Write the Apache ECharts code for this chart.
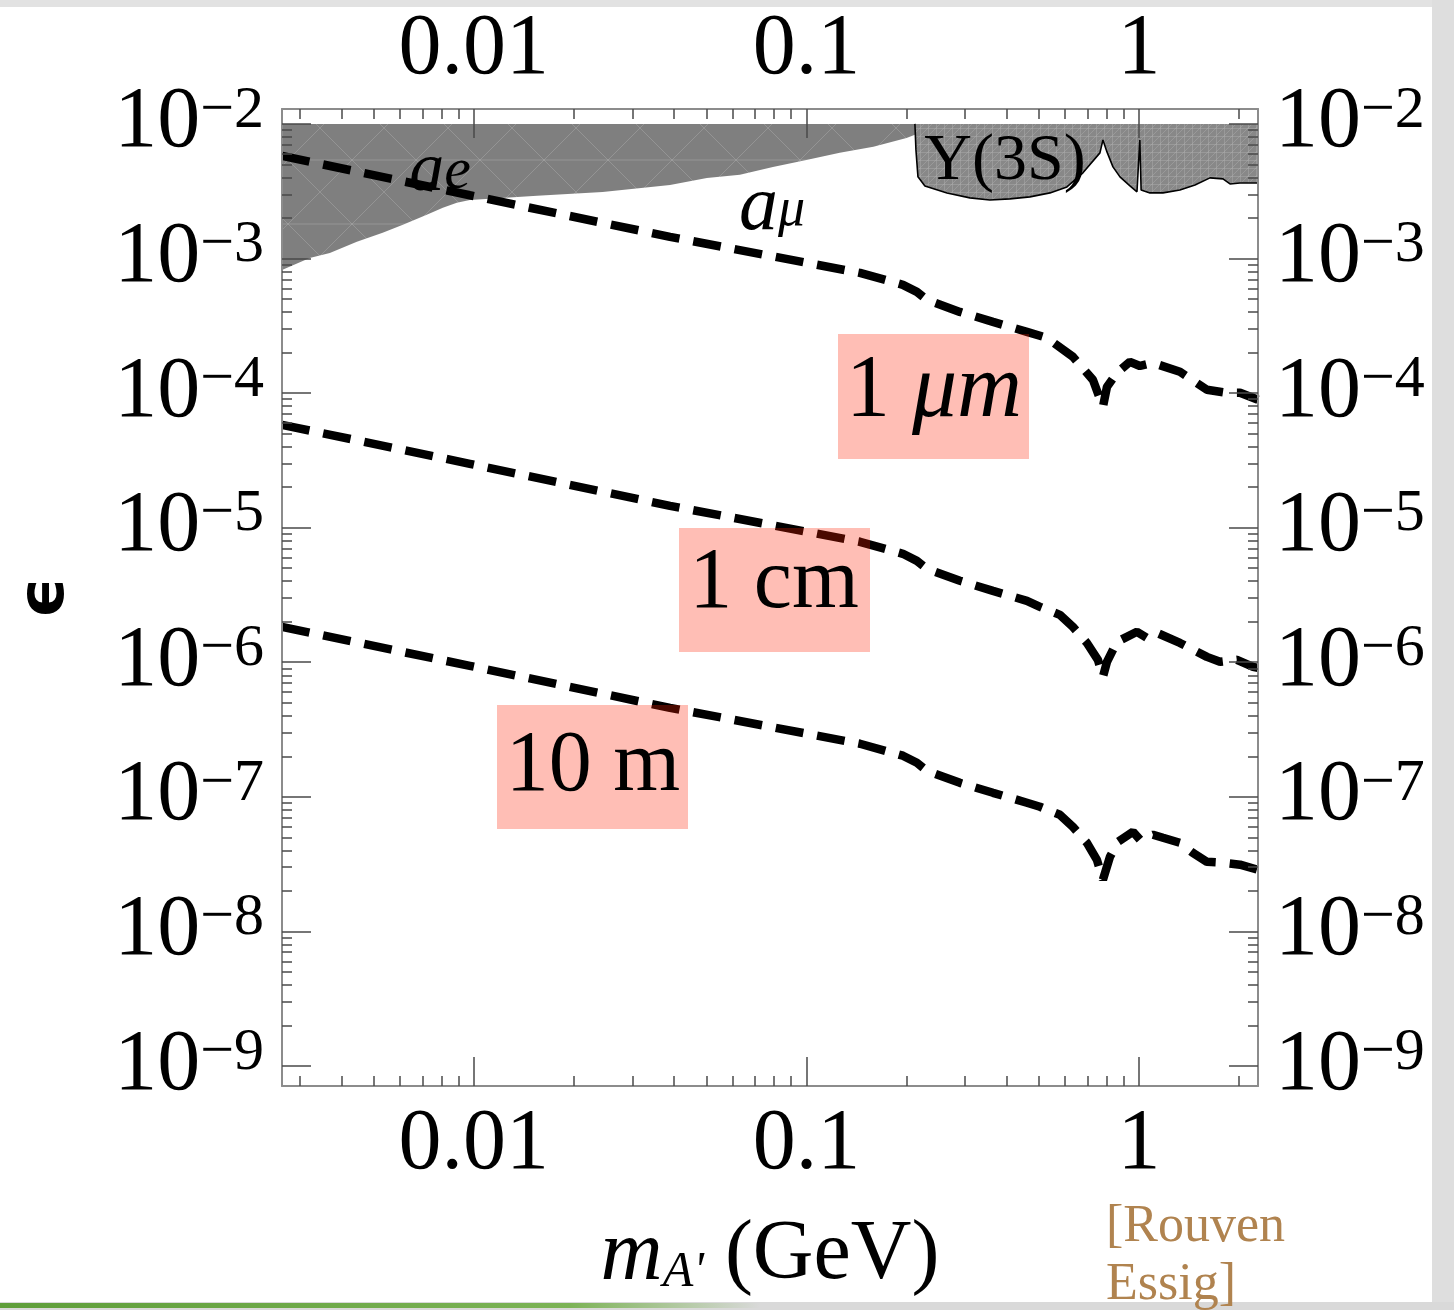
<!DOCTYPE html>
<html>
<head>
<meta charset="utf-8">
<script src="https://cdn.jsdelivr.net/npm/echarts@6/dist/echarts.min.js"></script>
<style>
  html, body { margin: 0; padding: 0; background: #fff; }
  #chart { width: 1454px; height: 1310px; }
</style>
</head>
<body>
<div id="chart"></div>
<script>
// axis ranges and tick values
const xMin = 0.00265, xMax = 2.28
const yMin = 7.1e-10, yMax = 0.0129
const xMajor = [0.01, 0.1, 1]
const yMajor = [1e-9, 1e-8, 1e-7, 1e-6, 1e-5, 1e-4, 1e-3, 1e-2]

// decay length contours: 1 um, 1 cm, 10 m
const um1X = [0.00265, 0.00973, 0.0389, 0.1449, 0.1951, 0.2149, 0.2304, 0.2894, 0.3639, 0.4604, 0.5289, 0.633, 0.7272, 0.7793, 0.8013, 0.8587, 0.9395, 1.007, 1.102, 1.328, 1.601, 1.839, 2.013, 2.28]
const um1Y = [5.78e-3, 2.95e-3, 1.447e-3, 7.81e-4, 6.37e-4, 5.65e-4, 4.92e-4, 4.01e-4, 3.38e-4, 2.85e-4, 2.57e-4, 1.86e-4, 1.253e-4, 7.9e-5, 1.111e-4, 1.413e-4, 1.705e-4, 1.59e-4, 1.676e-4, 1.438e-4, 1.057e-4, 1.004e-4, 1.004e-4, 8.91e-5]

const cm1X = [0.00265, 0.00973, 0.0389, 0.1449, 0.1951, 0.2149, 0.2304, 0.2894, 0.3639, 0.4604, 0.5039, 0.5786, 0.633, 0.6976, 0.7526, 0.7793, 0.8013, 0.8587, 0.9863, 1.057, 1.133, 1.328, 1.601, 1.752, 1.971, 2.203, 2.28]
const cm1Y = [5.81e-5, 2.98e-5, 1.452e-5, 7.85e-6, 6.39e-6, 5.66e-6, 4.94e-6, 4.03e-6, 3.39e-6, 2.86e-6, 2.58e-6, 2.25e-6, 1.83e-6, 1.39e-6, 1.042e-6, 7.79e-7, 1.007e-6, 1.418e-6, 1.684e-6, 1.518e-6, 1.653e-6, 1.39e-6, 1.096e-6, 1.007e-6, 1.042e-6, 9.24e-7, 9.08e-7]

const m10X = [0.00265, 0.00973, 0.0389, 0.1449, 0.1951, 0.2149, 0.2304, 0.2894, 0.3639, 0.4604, 0.5039, 0.5786, 0.633, 0.6976, 0.7475, 0.7793, 0.8181, 0.8647, 0.9594, 1.007, 1.102, 1.181, 1.328, 1.453, 1.601, 1.789, 2.013, 2.28]
const m10Y = [1.83e-6, 9.4e-7, 4.58e-7, 2.48e-7, 2.02e-7, 1.79e-7, 1.56e-7, 1.27e-7, 1.071e-7, 9.03e-8, 8.43e-8, 7.35e-8, 5.98e-8, 4.55e-8, 3.4e-8, 2.42e-8, 3.58e-8, 4.63e-8, 5.5e-8, 4.8e-8, 5.23e-8, 4.96e-8, 4.55e-8, 3.83e-8, 3.29e-8, 3.24e-8, 3.13e-8, 2.87e-8]

// excluded regions: a_e / a_mu (lower edge) and Upsilon(3S) (lower edge), both closed at eps = 1e-2
const regionTop = 1e-2
const amuX = [0.00265, 0.00321, 0.00369, 0.00445, 0.00532, 0.00612, 0.00722, 0.00807, 0.00889, 0.00973, 0.0155, 0.0244, 0.0389, 0.0502, 0.0631, 0.0793, 0.100, 0.126, 0.159, 0.200, 0.212]
const amuY = [8.2e-4, 1.01e-3, 1.10e-3, 1.33e-3, 1.55e-3, 1.78e-3, 2.11e-3, 2.38e-3, 2.59e-3, 2.72e-3, 2.92e-3, 3.12e-3, 3.52e-3, 3.97e-3, 4.18e-3, 4.79e-3, 5.40e-3, 6.09e-3, 6.75e-3, 7.87e-3, 8.29e-3]

const upsX = [0.2120, 0.2135, 0.2165, 0.2272, 0.2647, 0.3102, 0.3563, 0.4093, 0.4701, 0.5400, 0.6073, 0.6785, 0.7632, 0.7793, 0.8013, 0.8353, 0.8767, 0.9395, 0.9863, 1.006, 1.015, 1.079, 1.181, 1.328, 1.474, 1.635, 1.789, 1.878, 2.013, 2.28]
const upsY = [1.0e-2, 6.41e-3, 4.04e-3, 3.46e-3, 3.07e-3, 2.82e-3, 2.72e-3, 2.77e-3, 2.87e-3, 3.07e-3, 3.40e-3, 4.33e-3, 6.09e-3, 7.60e-3, 6.19e-3, 4.79e-3, 4.04e-3, 3.46e-3, 3.13e-3, 7.60e-3, 3.23e-3, 3.07e-3, 3.07e-3, 3.23e-3, 3.52e-3, 3.97e-3, 3.90e-3, 3.58e-3, 3.64e-3, 3.64e-3]

const pairs = (xs, ys) => xs.map((x, i) => [x, ys[i]])

// minor ticks 2..9 per decade, only between the labelled decades
function minors(lo, hi) {
  const out = []
  for (let e = Math.floor(Math.log10(lo)); e <= Math.ceil(Math.log10(hi)); e++) {
    for (let k = 2; k <= 9; k++) {
      const v = k * Math.pow(10, e)
      if (v >= lo && v <= hi) out.push(+v.toPrecision(3))
    }
  }
  return out
}
const xMinor = minors(xMin, xMax)
const yMinor = minors(1e-9, 1e-2)

// fill textures
function makePattern(size, bg, fg, draw) {
  const c = document.createElement('canvas')
  c.width = size; c.height = size
  const g = c.getContext('2d')
  g.fillStyle = bg; g.fillRect(0, 0, size, size)
  g.strokeStyle = fg; g.lineWidth = 1
  draw(g, size)
  return { image: c, repeat: 'repeat' }
}
const amuFill = makePattern(64, '#7f7f7f', 'rgba(200,200,200,0.3)', (g, s) => {
  g.beginPath()
  g.moveTo(0, s); g.lineTo(s, 0)
  g.moveTo(0, 0); g.lineTo(s, s)
  g.moveTo(0, s / 2); g.lineTo(s, s / 2)
  g.stroke()
})
const upsFill = makePattern(8, '#888888', 'rgba(175,175,175,0.45)', (g, s) => {
  g.beginPath()
  g.moveTo(0, 0.5); g.lineTo(s, 0.5)
  g.moveTo(0.5, 0); g.lineTo(0.5, s)
  g.moveTo(0, s); g.lineTo(s, 0)
  g.stroke()
})

const serif = 'Liberation Serif'
const frameColor = '#8c8c8c'
const tickColor = '#4a4a4a'

const fmtX = v => String(+(+v).toPrecision(3))
const fmtY = v => '{b|10}{s|\u2212' + Math.round(-Math.log10(v)) + '}'
const yRich = {
  b: { fontFamily: serif, fontSize: 86, lineHeight: 86, color: '#000' },
  s: { fontFamily: serif, fontSize: 60, lineHeight: 30, verticalAlign: 'top', color: '#000' }
}

function xAxisDef(pos, major) {
  return {
    type: 'log', position: pos, min: xMin, max: xMax, z: 10,
    axisLine: { show: major, lineStyle: { color: frameColor, width: 2 } },
    axisTick: { show: true, inside: true, length: major ? 29 : 10, customValues: major ? xMajor : xMinor,
      lineStyle: { color: tickColor, width: 1.5 } },
    axisLabel: { show: major, customValues: xMajor, formatter: fmtX, fontFamily: serif, fontSize: 86, color: '#000',
      margin: pos === 'bottom' ? 16 : 16 },
    splitLine: { show: false }
  }
}
function yAxisDef(pos, major) {
  return {
    type: 'log', position: pos, min: yMin, max: yMax, z: 10,
    axisLine: { show: major, lineStyle: { color: frameColor, width: 2 } },
    axisTick: { show: true, inside: true, length: major ? 29 : 10, customValues: major ? yMajor : yMinor,
      lineStyle: { color: tickColor, width: 1.5 } },
    axisLabel: { show: major, customValues: yMajor, formatter: fmtY, rich: yRich, margin: pos === 'left' ? 18 : 17 },
    splitLine: { show: false }
  }
}

const xAxes = [xAxisDef('bottom', true), xAxisDef('bottom', false), xAxisDef('top', true), xAxisDef('top', false)]
Object.assign(xAxes[0], {
  name: '{m|m}{sub|A\'}{g| (GeV)}', nameLocation: 'middle', nameGap: 128,
  nameTextStyle: { rich: {
    m: { fontFamily: serif, fontStyle: 'italic', fontSize: 86, lineHeight: 84, color: '#000' },
    sub: { fontFamily: serif, fontStyle: 'italic', fontSize: 50, lineHeight: 46, verticalAlign: 'bottom', color: '#000' },
    g: { fontFamily: serif, fontSize: 84, lineHeight: 84, color: '#000' }
  } }
})
const yAxes = [yAxisDef('left', true), yAxisDef('left', false), yAxisDef('right', true), yAxisDef('right', false)]
Object.assign(yAxes[0], {
  name: '\u03f5', nameLocation: 'middle', nameGap: 204, nameRotate: 90,
  nameTextStyle: { fontFamily: 'DejaVu Sans', fontSize: 64, fontWeight: 'bold', color: '#000' }
})

const dashStyle = { color: '#000', width: 8.5, type: [28, 14], cap: 'butt' }
function dashed(name, xs, ys) {
  return { name, type: 'line', data: pairs(xs, ys), showSymbol: false, silent: true, z: 4, lineStyle: dashStyle }
}
function region(name, poly, fill) {
  return {
    name, type: 'custom', data: [poly[0]], silent: true, z: 2,
    renderItem: (params, api) => ({
      type: 'polygon',
      shape: { points: poly.map(p => api.coord(p)) },
      style: { fill: fill, stroke: null }
    })
  }
}

const amuPoly = pairs(amuX, amuY).concat([[amuX[amuX.length - 1], regionTop], [amuX[0], regionTop]])
const upsPoly = pairs(upsX, upsY).concat([[upsX[upsX.length - 1], regionTop]])

const chart = echarts.init(document.getElementById('chart'))
chart.setOption({
  animation: false,
  backgroundColor: '#fff',
  grid: { left: 282, top: 109, width: 976, height: 977, containLabel: false },
  xAxis: xAxes,
  yAxis: yAxes,
  series: [
    region('a_e, a_mu', amuPoly, amuFill),
    region('Upsilon(3S)', upsPoly, upsFill),
    { name: 'Upsilon edge', type: 'line', data: pairs(upsX, upsY), showSymbol: false, silent: true, z: 3,
      lineStyle: { color: '#000', width: 1.6 } },
    dashed('1 um', um1X, um1Y),
    dashed('1 cm', cm1X, cm1Y),
    dashed('10 m', m10X, m10Y)
  ],
  graphic: [
    // slide background bits
    { type: 'rect', shape: { x: 0, y: 0, width: 1454, height: 7 }, style: { fill: '#e2e2e2' }, z: 0 },
    { type: 'rect', shape: { x: 1432, y: 0, width: 22, height: 1310 }, style: { fill: '#dedede' }, z: 0 },
    { type: 'rect', shape: { x: 0, y: 1302, width: 1454, height: 8 }, style: { fill: '#d9d9d9' }, z: 0 },
    { type: 'rect', shape: { x: 0, y: 1303, width: 760, height: 5 }, z: 1,
      style: { fill: new echarts.graphic.LinearGradient(0, 0, 1, 0, [
        { offset: 0, color: '#5f9e3a' }, { offset: 0.75, color: '#7cb356' }, { offset: 1, color: 'rgba(124,179,86,0)' }]) } },

    // region labels
    { type: 'text', x: 440, y: 172, z: 50, style: { text: '{a|a}{e|e}', align: 'center', verticalAlign: 'middle',
      rich: { a: { fontFamily: serif, fontStyle: 'italic', fontSize: 70, lineHeight: 60, fill: '#000' },
              e: { fontFamily: serif, fontStyle: 'italic', fontSize: 60, lineHeight: 30, verticalAlign: 'bottom', fill: '#000' } } } },
    { type: 'text', x: 772, y: 208, z: 50, style: { text: '{a|a}{u|\u03bc}', align: 'center', verticalAlign: 'middle',
      rich: { a: { fontFamily: serif, fontStyle: 'italic', fontSize: 78, lineHeight: 60, fill: '#000' },
              u: { fontFamily: serif, fontStyle: 'italic', fontSize: 54, lineHeight: 30, verticalAlign: 'bottom', fill: '#000' } } } },
    { type: 'text', x: 1005, y: 162, z: 50, style: { text: '\u03a5(3S)', align: 'center', verticalAlign: 'middle',
      fontFamily: serif, fontSize: 66, fill: '#000' } },

    // decay length boxes
    { type: 'rect', shape: { x: 838, y: 334, width: 191, height: 125 }, style: { fill: 'rgba(255,30,0,0.29)' }, z: 40 },
    { type: 'text', x: 934, y: 392, z: 50, style: { text: '{n|1 }{i|\u03bcm}', align: 'center', verticalAlign: 'middle',
      rich: { n: { fontFamily: serif, fontSize: 88, fill: '#000' }, i: { fontFamily: serif, fontStyle: 'italic', fontSize: 90, fill: '#000' } } } },
    { type: 'rect', shape: { x: 679, y: 528, width: 191, height: 124 }, style: { fill: 'rgba(255,30,0,0.29)' }, z: 40 },
    { type: 'text', x: 774, y: 584, z: 50, style: { text: '1 cm', align: 'center', verticalAlign: 'middle',
      fontFamily: serif, fontSize: 86, fill: '#000' } },
    { type: 'rect', shape: { x: 497, y: 705, width: 191, height: 124 }, style: { fill: 'rgba(255,30,0,0.29)' }, z: 40 },
    { type: 'text', x: 593, y: 767, z: 50, style: { text: '10 m', align: 'center', verticalAlign: 'middle',
      fontFamily: serif, fontSize: 86, fill: '#000' } },

    // credit
    { type: 'text', x: 1106, y: 1198, z: 50, style: { text: '[Rouven\nEssig]', fontFamily: serif, fontSize: 52,
      lineHeight: 58, fill: '#b0834f' } }
  ]
})
</script>
</body>
</html>
